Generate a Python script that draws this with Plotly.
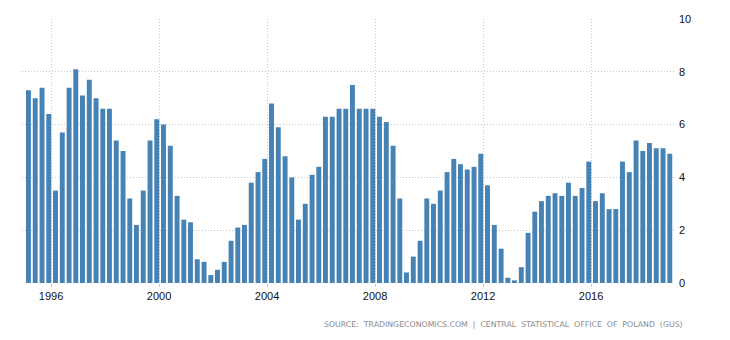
import plotly.graph_objects as go

# Poland GDP annual growth rate, quarterly, 1995Q1 - 2018Q4
start_year = 1995
values = [7.3, 7.0, 7.4, 6.4, 3.5, 5.7, 7.4, 8.1, 7.1, 7.7, 7.0, 6.6,
          6.6, 5.4, 5.0, 3.2, 2.2, 3.5, 5.4, 6.2, 6.0, 5.2, 3.3, 2.4,
          2.3, 0.9, 0.8, 0.3, 0.5, 0.8, 1.6, 2.1, 2.2, 3.8, 4.2, 4.7,
          6.8, 5.9, 4.8, 4.0, 2.4, 3.0, 4.1, 4.4, 6.3, 6.3, 6.6, 6.6,
          7.5, 6.6, 6.6, 6.6, 6.3, 6.1, 5.2, 3.2, 0.4, 1.0, 1.6, 3.2,
          3.0, 3.5, 4.2, 4.7, 4.5, 4.3, 4.4, 4.9, 3.7, 2.2, 1.3, 0.2,
          0.1, 0.6, 1.9, 2.7, 3.1, 3.3, 3.4, 3.3, 3.8, 3.3, 3.6, 4.6,
          3.1, 3.4, 2.8, 2.8, 4.6, 4.2, 5.4, 5.0, 5.3, 5.1, 5.1, 4.9]
tick_years = [1996, 2000, 2004, 2008, 2012, 2016]
y_ticks = [0, 2, 4, 6, 8, 10]
source_text = "SOURCE:  TRADINGECONOMICS.COM  |  CENTRAL  STATISTICAL  OFFICE  OF  POLAND  (GUS)"

dates = []
for i in range(len(values)):
    y = start_year + i // 4
    m = 3 * (i % 4 + 1)
    dates.append(f"{y}-{m:02d}-01")

fig = go.Figure()
fig.add_trace(go.Bar(x=dates, y=values, marker=dict(color="#4682B4", line=dict(width=0))))

font_tick = dict(family="Liberation Sans, Arial, sans-serif", size=11, color="#111111")

fig.update_layout(
    width=730, height=340,
    margin=dict(l=22, r=56, t=19, b=57),
    plot_bgcolor="white", paper_bgcolor="white",
    bargap=0.26,
    showlegend=False,
    xaxis=dict(
        type="date",
        range=["1994-12-04", "2019-01-27"],
        tickvals=[f"{y}-01-01" for y in tick_years],
        ticktext=[str(y) for y in tick_years],
        showgrid=True, gridcolor="#c8c8c8", griddash="1px,2px", gridwidth=1,
        ticks="outside", ticklen=3, tickcolor="#c8c8c8",
        showline=False, zeroline=False,
        tickfont=font_tick,
    ),
    yaxis=dict(
        side="right",
        range=[0, 10],
        tickvals=y_ticks,
        showgrid=True, gridcolor="#c8c8c8", griddash="1px,2px", gridwidth=1,
        zeroline=False, showline=False,
        ticks="", ticklabelstandoff=4,
        tickfont=font_tick,
    ),
    annotations=[dict(
        text=source_text, xref="paper", yref="paper",
        x=(685 - 22) / 652, y=(283 - 324) / 264,
        xanchor="right", yanchor="middle", showarrow=False,
        font=dict(family="DejaVu Sans, sans-serif", size=7.8, color="#8a8a8a"),
    )],
)

fig.write_html("out.html")
